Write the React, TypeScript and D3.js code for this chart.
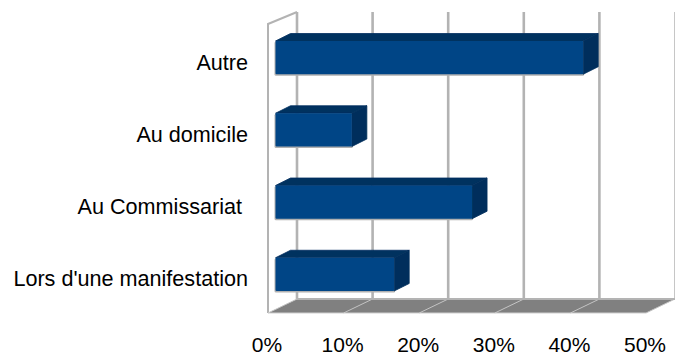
import React from 'react';
import * as d3 from 'd3';

const categories = ['Autre', 'Au domicile', 'Au Commissariat ', "Lors d'une manifestation"];
const values = [40.7, 10.1, 26, 15.7];
const ticks = [0, 10, 20, 30, 40, 50];

const W = 675, H = 356;
const x = d3.scaleLinear().domain([0, 50]).range([268, 646]);
const y = d3.scaleBand<string>().domain(categories).range([21.5, 310.5]).paddingInner(0.54).paddingOuter(0.27);
const depthX = 29, depthY = 14;
const floorY = 313, wallTop = 24;
const barDX = 15, barDY = 7.5, barInset = 7.5;
const grid = '#b3b3b3';
const font = '"Liberation Sans", Arial, sans-serif';

const poly = (pts: [number, number][]) => pts.map(p => p.join(',')).join(' ');

export default function App() {
  return (
    <svg width={W} height={H} viewBox={`0 0 ${W} ${H}`} style={{ position: 'absolute', left: 0, top: 0 }}>
      <defs>
        <filter id="soft" x="-5%" y="-5%" width="110%" height="110%">
          <feGaussianBlur stdDeviation="0.4" />
        </filter>
      </defs>
      <g filter="url(#soft)">
        <polygon points={poly([[x(0), floorY], [x(0) + depthX, floorY - depthY], [x(50) + depthX, floorY - depthY], [x(50), floorY]])} fill="#808080" />
        <polyline points={poly([[x(0), floorY], [x(0), wallTop], [x(0) + depthX, wallTop - depthY + 2]])} fill="none" stroke={grid} strokeWidth={2} />
        {ticks.map(t => (
          <g key={t}>
            <line x1={x(t) + depthX} x2={x(t) + depthX} y1={12} y2={floorY - depthY} stroke={grid} strokeWidth={t === 50 ? 1.5 : 2.6} />
            <line x1={x(t)} x2={x(t) + depthX} y1={floorY} y2={floorY - depthY} stroke="#c4c4c4" strokeWidth={1} />
          </g>
        ))}
        <line x1={x(0)} x2={x(50)} y1={floorY} y2={floorY} stroke="#d0d0d0" strokeWidth={1.2} />
        <line x1={x(0) + depthX} x2={x(50) + depthX} y1={floorY - depthY} y2={floorY - depthY} stroke={grid} strokeWidth={2} />
        {categories.map((c, i) => {
          const x0 = x(0) + barInset;
          const x1 = x(values[i]) + barInset;
          const top = y(c)!;
          const bottom = top + y.bandwidth();
          return (
            <g key={c}>
              <rect x={x0 - 1} y={top + 0.5} width={x1 - x0 + 2} height={bottom - top + 1} fill="#b0b0b0" rx={1.5} />
              <polygon points={poly([[x0, top], [x0 + barDX, top - barDY], [x1 + barDX, top - barDY], [x1, top]])} fill="#00305f" stroke="#00305f" strokeWidth={0.8} strokeLinejoin="round" />
              <polygon points={poly([[x1, top], [x1 + barDX, top - barDY], [x1 + barDX, bottom - barDY], [x1, bottom]])} fill="#002f5c" stroke="#002f5c" strokeWidth={0.8} strokeLinejoin="round" />
              <rect x={x0} y={top} width={x1 - x0} height={bottom - top} fill="#004586" rx={1} />
            </g>
          );
        })}
      </g>
      {categories.map(c => (
        <text key={c} x={248} y={y(c)! + y.bandwidth() / 2 + 4.5} dy="0.35em" textAnchor="end" fontFamily={font} fontSize={21.6} fill="#000" xmlSpace="preserve">{c}</text>
      ))}
      {ticks.map(t => (
        <text key={t} x={x(t) - 1} y={345} dy="0.35em" textAnchor="middle" fontFamily={font} fontSize={21} fill="#000">{t}%</text>
      ))}
    </svg>
  );
}
